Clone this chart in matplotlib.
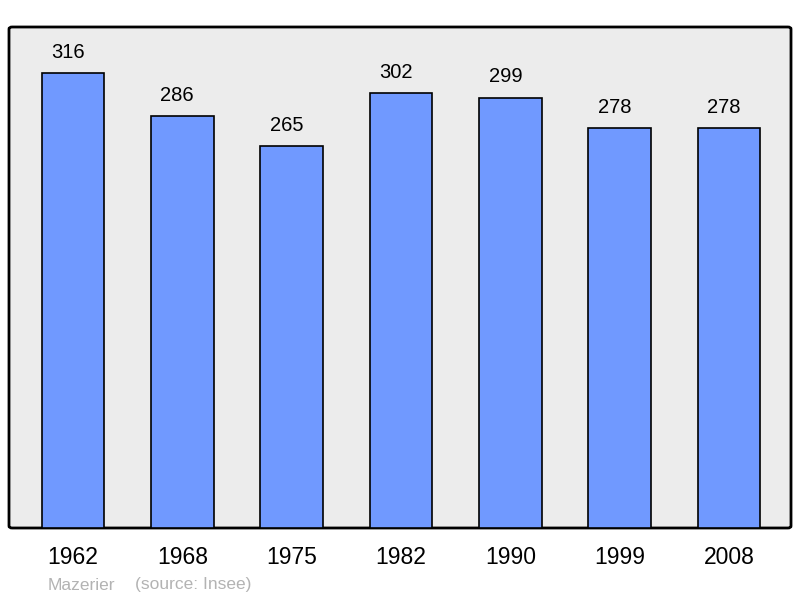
import matplotlib
matplotlib.use("Agg")
import matplotlib.pyplot as plt
from matplotlib.patches import FancyBboxPatch

years = ["1962", "1968", "1975", "1982", "1990", "1999", "2008"]
population = [316, 286, 265, 302, 299, 278, 278]

plt.rcParams['font.family'] = ['Liberation Sans', 'DejaVu Sans']

fig = plt.figure(figsize=(8.0, 5.98), dpi=100)
ax = fig.add_axes([9/800, 70/598, 782/800, 501/598])
ax.set_facecolor('none')

# rounded frame background
frame = FancyBboxPatch((0, 0), 1, 1, boxstyle="round,pad=0,rounding_size=0.004",
                       transform=ax.transAxes, facecolor='#ececec', edgecolor='black',
                       linewidth=2, zorder=0, clip_on=False)
ax.add_patch(frame)

x = list(range(len(years)))
ax.bar(x, population, width=0.575, color='#7099ff', edgecolor='black', linewidth=1.2, zorder=2)
for xi, v in zip(x, population):
    ax.annotate(str(v), (xi, v), xytext=(-3.6, 8), textcoords='offset points',
                ha='center', va='bottom', fontsize=14.5, color='black')

ax.set_xlim(-0.585, 6.567)
ax.set_ylim(0, 348)
ax.set_xticks(x)
ax.set_xticklabels(years, fontsize=16.5)
ax.tick_params(axis='x', length=0, pad=13)
ax.set_yticks([])
for s in ax.spines.values():
    s.set_visible(False)

fig.text(48/800, 1 - 585/598, "Mazerier", fontsize=12.5, color='#b3b3b3', va='center', ha='left')
fig.text(135/800, 1 - 585/598, "(source: Insee)", fontsize=12.5, color='#b3b3b3', va='center', ha='left')

fig.savefig("out.png", dpi=100)
